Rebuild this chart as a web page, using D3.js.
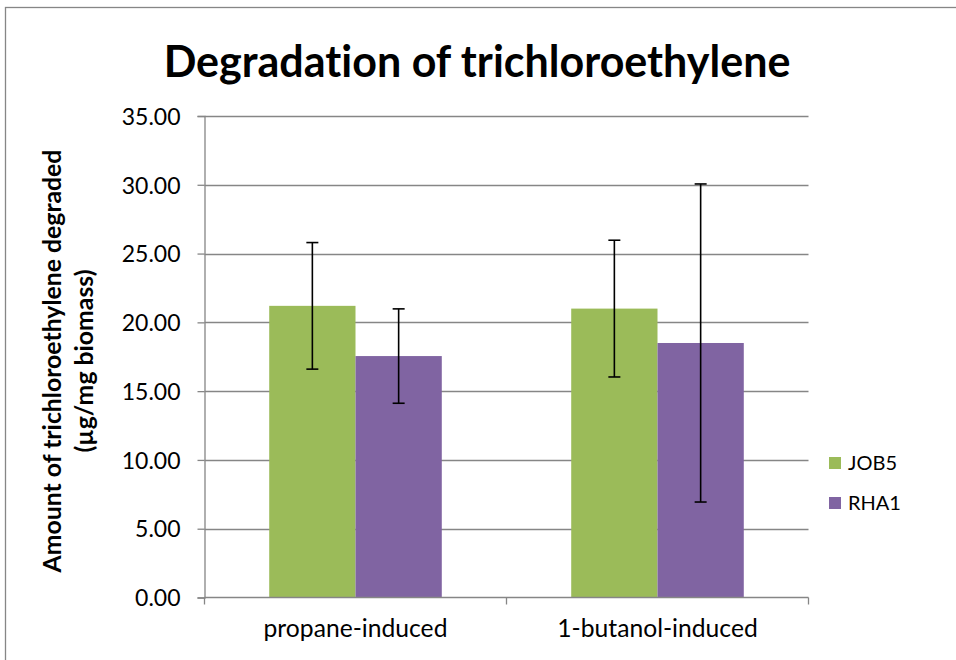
<!DOCTYPE html>
<meta charset="utf-8">
<style>
body { margin: 0; background: #fff; }
text { font-family: Lato, "Open Sans", sans-serif; fill: #000; font-variant-ligatures: none; }
.grid line { stroke: #868686; stroke-width: 1.3px; }
.axis path, .axis line { stroke: #868686; stroke-width: 1.3px; fill: none; }
.err { stroke: #000; stroke-width: 1.6px; }
</style>
<svg width="956" height="660"></svg>
<script src="https://d3js.org/d3.v7.min.js"></script>
<script>

var categories = ["propane-induced", "1-butanol-induced"];
var seriesNames = ["JOB5", "RHA1"];
var seriesColors = ["#9bbb59", "#8064a2"];
var job5 = [21.2, 21.0];
var job5Err = [4.6, 4.97];
var rha1 = [17.55, 18.5];
var rha1Err = [3.43, 11.56];
var yTicks = [0, 5, 10, 15, 20, 25, 30, 35];

var svg = d3.select("svg");

// fit a text element to a target pixel width by changing its font size
var fit = function(sel, target) {
  var w = sel.node().getComputedTextLength();
  var fs = parseFloat(sel.attr("font-size"));
  sel.attr("font-size", fs * target / w);
}

svg.append("rect")
    .attr("width", 956).attr("height", 660).attr("fill", "#fff");
svg.append("rect")
    .attr("x", 5.5).attr("y", 7.5).attr("width", 1000).attr("height", 1000)
    .attr("fill", "none").attr("stroke", "#868686").attr("stroke-width", 1.3);

var plotL = 204.5, plotR = 808.5, plotT = 116, plotB = 597.5;

var y = d3.scaleLinear().domain([0, 35]).range([plotB, plotT]);
var x0 = d3.scaleBand().domain(categories).range([plotL, plotR]);
var bw = x0.bandwidth();
var gap = bw * 1.5 / 3.5;
var x1 = d3.scaleBand().domain(seriesNames).range([gap / 2, bw - gap / 2]);

// grid
svg.append("g").attr("class", "grid")
  .selectAll("line").data(yTicks.slice(1)).enter().append("line")
    .attr("x1", plotL).attr("x2", plotR)
    .attr("y1", function(d) { return Math.round(y(d)) + 0.5; })
    .attr("y2", function(d) { return Math.round(y(d)) + 0.5; });

// bars
var rows = categories.map(function(c, i) {
  return [
    {cat: c, s: "JOB5", v: job5[i], e: job5Err[i], color: seriesColors[0]},
    {cat: c, s: "RHA1", v: rha1[i], e: rha1Err[i], color: seriesColors[1]}
  ];
});

var grp = svg.append("g").selectAll("g").data(rows).enter().append("g")
    .attr("transform", function(d, i) { return "translate(" + x0(categories[i]) + ",0)"; });

grp.selectAll("rect").data(function(d) { return d; }).enter().append("rect")
    .attr("x", function(d) { return x1(d.s); })
    .attr("width", x1.bandwidth())
    .attr("y", function(d) { return y(d.v); })
    .attr("height", function(d) { return y(0) - y(d.v); })
    .attr("fill", function(d) { return d.color; });

// axes
var yAxis = svg.append("g").attr("class", "axis")
    .attr("transform", "translate(" + plotL + ",0)")
    .call(d3.axisLeft(y).tickValues(yTicks).tickSize(7).tickPadding(17)
      .tickFormat(d3.format(".2f")));
yAxis.selectAll("text").attr("font-size", 23).attr("dy", "0.36em")
    .style("font-family", "Lato, 'Open Sans', sans-serif");

var xg = svg.append("g").attr("class", "axis");
xg.append("line").attr("x1", plotL).attr("x2", plotR).attr("y1", plotB).attr("y2", plotB);
xg.selectAll(".tk").data([plotL, (plotL + plotR) / 2, plotR]).enter().append("line")
    .attr("class", "tk")
    .attr("x1", function(d) { return d; }).attr("x2", function(d) { return d; })
    .attr("y1", plotB).attr("y2", plotB + 7);

var xl = svg.append("g").selectAll("text").data(categories).enter().append("text")
    .attr("x", function(d) { return x0(d) + bw / 2; })
    .attr("y", 637)
    .attr("text-anchor", "middle")
    .attr("font-size", 23)
    .text(function(d) { return d; });
fit(d3.select(xl.nodes()[0]), 184);
xl.attr("font-size", d3.select(xl.nodes()[0]).attr("font-size"));

// error bars
var eb = grp.selectAll("g.eb").data(function(d) { return d; }).enter().append("g")
    .attr("class", "err");
eb.append("line")
    .attr("x1", function(d) { return x1(d.s) + x1.bandwidth() / 2; })
    .attr("x2", function(d) { return x1(d.s) + x1.bandwidth() / 2; })
    .attr("y1", function(d) { return y(d.v + d.e); })
    .attr("y2", function(d) { return y(d.v - d.e); });
eb.selectAll("line.cap").data(function(d) { return [d.v + d.e, d.v - d.e].map(function(v) { return {s: d.s, v: v}; }); })
  .enter().append("line").attr("class", "cap")
    .attr("x1", function(d) { return x1(d.s) + x1.bandwidth() / 2 - 6; })
    .attr("x2", function(d) { return x1(d.s) + x1.bandwidth() / 2 + 6; })
    .attr("y1", function(d) { return y(d.v); })
    .attr("y2", function(d) { return y(d.v); });

// title
var title = svg.append("text")
    .attr("x", 477).attr("y", 77)
    .attr("text-anchor", "middle")
    .attr("font-size", 36).attr("font-weight", "bold")
    .text("Degradation of trichloroethylene");
fit(title, 627);

// y axis title
var yt = svg.append("g").attr("transform", "translate(0,361) rotate(-90)");
var yt1 = yt.append("text").attr("x", 0).attr("y", 61)
    .attr("text-anchor", "middle").attr("font-size", 22).attr("font-weight", "bold")
    .text("Amount of trichloroethylene degraded");
fit(yt1, 423);
var yt2 = yt.append("text").attr("x", 0).attr("y", 93)
    .attr("text-anchor", "middle").attr("font-size", 22).attr("font-weight", "bold")
    .text("(\u00b5g/mg biomass)");
yt2.attr("font-size", yt1.attr("font-size"));

// legend
var lg = svg.append("g").selectAll("g").data(seriesNames).enter().append("g")
    .attr("transform", function(d, i) { return "translate(829," + (457 + i * 40) + ")"; });
lg.append("rect").attr("width", 12).attr("height", 12)
    .attr("fill", function(d, i) { return seriesColors[i]; });
lg.append("text").attr("x", 19).attr("y", 13)
    .attr("font-size", 20)
    .text(function(d) { return d; });

</script>
